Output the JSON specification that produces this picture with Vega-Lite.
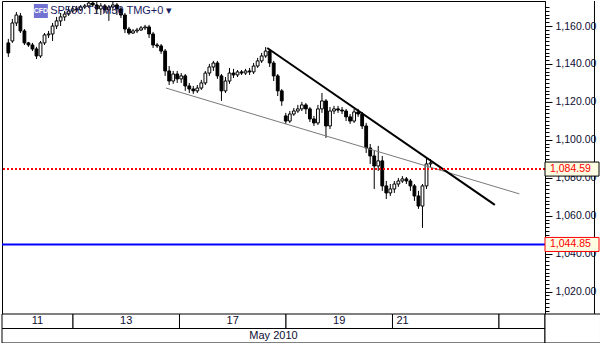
{
  "$schema": "https://vega.github.io/schema/vega-lite/v6.json",
  "padding": 0,
  "spacing": 0,
  "bounds": "flush",
  "background": "white",
  "config": {"view": {"stroke": "black", "strokeWidth": 1}, "font": "Liberation Sans", "concat": {"spacing": 0}},
  "datasets": {
    "bars": [
{"i":0,"o":1151.1,"h":1153.2,"l":1143.7,"c":1145.8},
{"i":1,"o":1152.1,"h":1163.7,"l":1151.1,"c":1161.6},
{"i":2,"o":1161.6,"h":1167.4,"l":1160.0,"c":1165.8},
{"i":3,"o":1165.3,"h":1166.9,"l":1156.3,"c":1157.4},
{"i":4,"o":1157.4,"h":1158.4,"l":1150.0,"c":1151.1},
{"i":5,"o":1151.1,"h":1151.6,"l":1149.0,"c":1150.0},
{"i":6,"o":1150.0,"h":1151.1,"l":1146.8,"c":1147.9},
{"i":7,"o":1147.9,"h":1149.0,"l":1142.6,"c":1144.2},
{"i":8,"o":1144.2,"h":1152.1,"l":1143.2,"c":1151.1},
{"i":9,"o":1151.1,"h":1156.3,"l":1150.0,"c":1155.3},
{"i":10,"o":1155.3,"h":1157.4,"l":1153.7,"c":1155.8},
{"i":11,"o":1155.8,"h":1161.6,"l":1152.1,"c":1160.0},
{"i":12,"o":1160.0,"h":1164.8,"l":1158.4,"c":1162.7},
{"i":13,"o":1162.7,"h":1166.9,"l":1160.0,"c":1164.8},
{"i":14,"o":1164.8,"h":1167.9,"l":1162.7,"c":1166.3},
{"i":15,"o":1166.3,"h":1170.0,"l":1165.3,"c":1167.9},
{"i":16,"o":1167.9,"h":1170.6,"l":1166.9,"c":1169.0},
{"i":17,"o":1169.0,"h":1170.6,"l":1167.4,"c":1168.5},
{"i":18,"o":1168.5,"h":1171.1,"l":1167.9,"c":1170.0},
{"i":19,"o":1170.0,"h":1171.6,"l":1169.0,"c":1170.6},
{"i":20,"o":1170.6,"h":1174.3,"l":1169.5,"c":1172.1},
{"i":21,"o":1172.1,"h":1174.8,"l":1170.0,"c":1171.1},
{"i":22,"o":1171.1,"h":1172.7,"l":1166.9,"c":1169.0},
{"i":23,"o":1169.0,"h":1172.1,"l":1165.8,"c":1170.6},
{"i":24,"o":1170.6,"h":1171.6,"l":1166.9,"c":1168.5},
{"i":25,"o":1168.5,"h":1171.1,"l":1162.7,"c":1170.0},
{"i":26,"o":1170.0,"h":1172.7,"l":1167.9,"c":1171.1},
{"i":27,"o":1171.1,"h":1172.1,"l":1165.8,"c":1169.0},
{"i":28,"o":1169.0,"h":1170.0,"l":1164.2,"c":1165.8},
{"i":29,"o":1165.8,"h":1166.9,"l":1156.3,"c":1158.4},
{"i":30,"o":1158.4,"h":1159.5,"l":1155.3,"c":1156.3},
{"i":31,"o":1156.3,"h":1158.4,"l":1155.8,"c":1157.4},
{"i":32,"o":1157.4,"h":1159.0,"l":1156.3,"c":1157.9},
{"i":33,"o":1157.9,"h":1160.0,"l":1157.4,"c":1159.0},
{"i":34,"o":1159.0,"h":1160.6,"l":1157.9,"c":1159.5},
{"i":35,"o":1159.5,"h":1160.6,"l":1153.7,"c":1155.8},
{"i":36,"o":1155.8,"h":1156.9,"l":1148.4,"c":1150.0},
{"i":37,"o":1150.0,"h":1151.1,"l":1148.4,"c":1149.5},
{"i":38,"o":1149.5,"h":1150.5,"l":1145.3,"c":1146.8},
{"i":39,"o":1146.8,"h":1147.9,"l":1133.7,"c":1136.3},
{"i":40,"o":1136.3,"h":1138.9,"l":1128.9,"c":1131.0},
{"i":41,"o":1131.0,"h":1136.3,"l":1129.5,"c":1134.7},
{"i":42,"o":1134.7,"h":1136.3,"l":1130.0,"c":1132.1},
{"i":43,"o":1132.1,"h":1135.2,"l":1130.0,"c":1133.7},
{"i":44,"o":1133.7,"h":1134.7,"l":1125.8,"c":1128.4},
{"i":45,"o":1128.4,"h":1130.0,"l":1124.7,"c":1126.8},
{"i":46,"o":1126.8,"h":1128.4,"l":1124.2,"c":1125.8},
{"i":47,"o":1125.8,"h":1128.9,"l":1124.7,"c":1127.3},
{"i":48,"o":1127.3,"h":1131.6,"l":1126.3,"c":1130.0},
{"i":49,"o":1130.0,"h":1136.3,"l":1128.9,"c":1135.2},
{"i":50,"o":1135.2,"h":1140.0,"l":1133.7,"c":1138.4},
{"i":51,"o":1138.4,"h":1141.6,"l":1136.3,"c":1140.5},
{"i":52,"o":1140.5,"h":1141.6,"l":1132.1,"c":1133.7},
{"i":53,"o":1133.7,"h":1134.7,"l":1120.5,"c":1125.8},
{"i":54,"o":1125.8,"h":1133.1,"l":1124.7,"c":1131.0},
{"i":55,"o":1131.0,"h":1137.9,"l":1129.5,"c":1135.2},
{"i":56,"o":1135.2,"h":1137.4,"l":1132.6,"c":1134.2},
{"i":57,"o":1134.2,"h":1136.8,"l":1133.1,"c":1135.8},
{"i":58,"o":1135.8,"h":1136.8,"l":1134.2,"c":1135.2},
{"i":59,"o":1135.2,"h":1137.4,"l":1134.2,"c":1136.3},
{"i":60,"o":1136.3,"h":1137.9,"l":1134.2,"c":1135.8},
{"i":61,"o":1135.8,"h":1140.5,"l":1134.7,"c":1138.9},
{"i":62,"o":1138.9,"h":1143.2,"l":1137.9,"c":1141.6},
{"i":63,"o":1141.6,"h":1145.8,"l":1140.5,"c":1144.2},
{"i":64,"o":1144.2,"h":1148.9,"l":1143.2,"c":1146.8},
{"i":65,"o":1146.8,"h":1147.9,"l":1138.4,"c":1140.5},
{"i":66,"o":1140.5,"h":1141.6,"l":1131.0,"c":1133.7},
{"i":67,"o":1133.7,"h":1134.7,"l":1123.1,"c":1125.8},
{"i":68,"o":1125.8,"h":1126.8,"l":1117.9,"c":1120.5},
{"i":69,"o":1112.6,"h":1114.2,"l":1108.4,"c":1109.9},
{"i":70,"o":1109.9,"h":1115.2,"l":1108.9,"c":1113.6},
{"i":71,"o":1113.6,"h":1116.8,"l":1112.6,"c":1115.2},
{"i":72,"o":1115.2,"h":1118.4,"l":1114.2,"c":1116.3},
{"i":73,"o":1116.3,"h":1120.0,"l":1115.2,"c":1118.4},
{"i":74,"o":1118.4,"h":1119.4,"l":1113.6,"c":1116.3},
{"i":75,"o":1116.3,"h":1117.3,"l":1109.4,"c":1111.0},
{"i":76,"o":1111.0,"h":1112.6,"l":1107.3,"c":1108.9},
{"i":77,"o":1108.9,"h":1118.4,"l":1107.8,"c":1116.3},
{"i":78,"o":1116.3,"h":1124.7,"l":1114.2,"c":1120.5},
{"i":79,"o":1120.5,"h":1121.5,"l":1101.0,"c":1107.3},
{"i":80,"o":1107.3,"h":1117.3,"l":1105.7,"c":1115.2},
{"i":81,"o":1115.2,"h":1117.9,"l":1113.6,"c":1116.3},
{"i":82,"o":1116.3,"h":1117.9,"l":1114.2,"c":1115.7},
{"i":83,"o":1115.7,"h":1117.3,"l":1113.6,"c":1115.2},
{"i":84,"o":1115.2,"h":1116.3,"l":1109.9,"c":1112.1},
{"i":85,"o":1112.1,"h":1113.6,"l":1108.4,"c":1109.9},
{"i":86,"o":1109.9,"h":1116.3,"l":1108.9,"c":1114.7},
{"i":87,"o":1114.7,"h":1116.3,"l":1112.1,"c":1113.6},
{"i":88,"o":1113.6,"h":1114.7,"l":1105.7,"c":1107.3},
{"i":89,"o":1107.3,"h":1108.9,"l":1093.1,"c":1095.7},
{"i":90,"o":1095.7,"h":1097.8,"l":1087.3,"c":1091.5},
{"i":91,"o":1091.5,"h":1094.1,"l":1074.1,"c":1086.2},
{"i":92,"o":1086.2,"h":1096.8,"l":1083.6,"c":1088.9},
{"i":93,"o":1088.9,"h":1091.5,"l":1073.1,"c":1075.7},
{"i":94,"o":1075.7,"h":1078.3,"l":1068.8,"c":1072.0},
{"i":95,"o":1072.0,"h":1076.7,"l":1070.4,"c":1074.1},
{"i":96,"o":1074.1,"h":1078.3,"l":1072.0,"c":1076.7},
{"i":97,"o":1076.7,"h":1079.9,"l":1075.2,"c":1078.3},
{"i":98,"o":1078.3,"h":1080.9,"l":1077.3,"c":1079.4},
{"i":99,"o":1079.4,"h":1080.4,"l":1076.7,"c":1078.3},
{"i":100,"o":1078.3,"h":1079.4,"l":1073.1,"c":1075.7},
{"i":101,"o":1075.7,"h":1076.7,"l":1067.8,"c":1070.4},
{"i":102,"o":1070.4,"h":1073.1,"l":1063.6,"c":1065.1},
{"i":103,"o":1065.1,"h":1076.7,"l":1053.6,"c":1075.7},
{"i":104,"o":1075.7,"h":1090.4,"l":1074.1,"c":1087.3},
{"i":105,"o":1087.3,"h":1089.9,"l":1085.7,"c":1087.8}
    ],
    "trend": [
      {"id": "upper", "i": 64.4, "p": 1148.4},
      {"id": "upper", "i": 121.0, "p": 1065.7},
      {"id": "lower", "i": 39.2, "p": 1127.3},
      {"id": "lower", "i": 127.1, "p": 1071.5}
    ],
    "levels": [
      {"name": "red", "v": 1084.59},
      {"name": "blue", "v": 1044.85}
    ],
    "days": [
      {"a": -0.334, "b": 17, "r0": 0, "r1": 1, "label": "11"},
      {"a": 17, "b": 43, "r0": 0, "r1": 1, "label": "13"},
      {"a": 43, "b": 69, "r0": 0, "r1": 1, "label": "17"},
      {"a": 69, "b": 95, "r0": 0, "r1": 1, "label": "19"},
      {"a": 95, "b": 121, "r0": 0, "r1": 1, "label": "21"},
      {"a": 121, "b": 132.23, "r0": 0, "r1": 1, "label": ""},
      {"a": -0.334, "b": 132.23, "r0": 1, "r1": 2, "label": "May 2010"},
      {"a": 132.23, "b": 145.78, "r0": 0, "r1": 2, "label": ""}
    ]
  },
  "vconcat": [
    {
      "width": 543,
      "height": 313,
      "layer": [
        {
          "data": {"name": "bars"},
          "mark": {"type": "rule", "color": "black", "strokeWidth": 1, "clip": true},
          "encoding": {
            "x": {"field": "i", "type": "quantitative", "scale": {"domain": [-0.334, 132.23], "nice": false, "zero": false}, "axis": null},
            "y": {
              "field": "l", "type": "quantitative",
              "scale": {"domain": [1008.19, 1173.18], "nice": false, "zero": false, "clamp": true},
              "axis": {
                "orient": "right",
                "values": [1010,1012,1014,1016,1018,1020,1022,1024,1026,1028,1030,1032,1034,1036,1038,1040,1042,1044,1046,1048,1050,1052,1054,1056,1058,1060,1062,1064,1066,1068,1070,1072,1074,1076,1078,1080,1082,1084,1086,1088,1090,1092,1094,1096,1098,1100,1102,1104,1106,1108,1110,1112,1114,1116,1118,1120,1122,1124,1126,1128,1130,1132,1134,1136,1138,1140,1142,1144,1146,1148,1150,1152,1154,1156,1158,1160,1162,1164,1166,1168,1170],
                "tickCount": 200,
                "labelExpr": "datum.value % 20 === 0 ? format(datum.value, ',.2f') : ''",
                "tickSize": {"condition": {"test": "datum.value % 20 === 0", "value": 7}, "value": 4},
                "tickColor": "black",
                "domainColor": "black",
                "labelFontSize": 10.5,
                "labelColor": "#0d0d33",
                "labelFont": "Liberation Sans",
                "labelPadding": 3,
                "labelOverlap": false,
                "labelBound": false,
                "labelFlush": false,
                "grid": false,
                "title": null,
                "minExtent": 57,
                "maxExtent": 57
              }
            },
            "y2": {"field": "h"}
          }
        },
        {
          "data": {"name": "bars"},
          "mark": {"type": "bar", "size": 2.8, "stroke": "black", "strokeWidth": 1, "clip": true},
          "encoding": {
            "x": {"field": "i", "type": "quantitative"},
            "y": {"field": "o", "type": "quantitative"},
            "y2": {"field": "c"},
            "fill": {"condition": {"test": "datum.c >= datum.o", "value": "white"}, "value": "black"}
          }
        },
        {
          "data": {"name": "trend"},
          "transform": [{"filter": "datum.id === 'lower'"}],
          "mark": {"type": "line", "color": "#7a7a7a", "strokeWidth": 1},
          "encoding": {
            "x": {"field": "i", "type": "quantitative"},
            "y": {"field": "p", "type": "quantitative"}
          }
        },
        {
          "data": {"name": "trend"},
          "transform": [{"filter": "datum.id === 'upper'"}],
          "mark": {"type": "line", "color": "black", "strokeWidth": 2},
          "encoding": {
            "x": {"field": "i", "type": "quantitative"},
            "y": {"field": "p", "type": "quantitative"}
          }
        },
        {
          "data": {"name": "levels"},
          "transform": [{"filter": "datum.name === 'red'"}],
          "mark": {"type": "rule", "color": "#ff0000", "strokeWidth": 2, "strokeDash": [2, 2]},
          "encoding": {"y": {"field": "v", "type": "quantitative"}}
        },
        {
          "data": {"name": "levels"},
          "transform": [{"filter": "datum.name === 'blue'"}],
          "mark": {"type": "rule", "color": "#0000ff", "strokeWidth": 2},
          "encoding": {"y": {"field": "v", "type": "quantitative"}}
        },
        {
          "data": {"values": [{"edge": 145.78}]},
          "mark": {"type": "rule", "color": "black", "strokeWidth": 1},
          "encoding": {"x": {"field": "edge", "type": "quantitative"}}
        },
        {
          "data": {"name": "levels"},
          "mark": {"type": "point", "shape": "M0,-0.13L1,-0.13L1,0.13L0,0.13Z", "filled": true, "fill": "#fdfbe2", "opacity": 1, "strokeWidth": 1, "size": 11664},
          "encoding": {
            "x": {"value": "width"},
            "y": {"field": "v", "type": "quantitative"},
            "stroke": {"condition": {"test": "datum.name === 'red'", "value": "black"}, "value": "#ff0000"}
          }
        },
        {
          "data": {"name": "levels"},
          "mark": {"type": "text", "align": "left", "baseline": "middle", "dx": 5, "color": "#ff0000", "fontSize": 10.5, "font": "Liberation Sans"},
          "encoding": {
            "x": {"value": "width"},
            "y": {"field": "v", "type": "quantitative"},
            "text": {"field": "v", "type": "quantitative", "format": ",.2f"}
          }
        },
        {
          "data": {"values": [{"icon": "CFD"}]},
          "mark": {"type": "point", "shape": "square", "filled": true, "fill": "#7272d2", "opacity": 1, "size": 196},
          "encoding": {
            "x": {"datum": 8.09, "type": "quantitative"},
            "y": {"datum": 1167.9, "type": "quantitative"}
          }
        },
        {
          "data": {"values": [{"icon": "CFD"}]},
          "mark": {"type": "text", "align": "center", "baseline": "middle", "color": "white", "fontSize": 7, "fontWeight": "bold"},
          "encoding": {
            "x": {"datum": 8.09, "type": "quantitative"},
            "y": {"datum": 1167.9, "type": "quantitative"},
            "text": {"field": "icon"}
          }
        },
        {
          "data": {"values": [{"label": "SP500.T1 M30 TMG+0 ▾"}]},
          "mark": {"type": "text", "align": "left", "baseline": "middle", "color": "#1b1b5e", "fontSize": 11, "font": "Liberation Sans"},
          "encoding": {
            "x": {"datum": 10.41, "type": "quantitative"},
            "y": {"datum": 1167.9, "type": "quantitative"},
            "text": {"field": "label"}
          }
        }
      ]
    },
    {
      "width": 600,
      "height": 29,
      "view": {"stroke": null},
      "data": {"name": "days"},
      "transform": [
        {"calculate": "(datum.a + datum.b) / 2", "as": "mid"},
        {"calculate": "(datum.r0 + datum.r1) / 2", "as": "rmid"}
      ],
      "layer": [
        {
          "mark": {"type": "rect", "fill": "white", "stroke": "black", "strokeWidth": 1},
          "encoding": {
            "x": {"field": "a", "type": "quantitative", "scale": {"domain": [-0.334, 146.15], "nice": false, "zero": false}, "axis": null},
            "x2": {"field": "b"},
            "y": {"field": "r0", "type": "quantitative", "scale": {"domain": [0, 2], "reverse": true, "nice": false, "zero": false}, "axis": null},
            "y2": {"field": "r1"}
          }
        },
        {
          "transform": [{"filter": "datum.label !== '21'"}],
          "mark": {"type": "text", "align": "center", "baseline": "middle", "fontSize": 11, "color": "#0d0d33", "font": "Liberation Sans"},
          "encoding": {
            "x": {"field": "mid", "type": "quantitative"},
            "y": {"field": "rmid", "type": "quantitative"},
            "text": {"field": "label"}
          }
        },
        {
          "transform": [{"filter": "datum.label === '21'"}],
          "mark": {"type": "text", "align": "left", "baseline": "middle", "dx": 4, "fontSize": 11, "color": "#0d0d33", "font": "Liberation Sans"},
          "encoding": {
            "x": {"field": "a", "type": "quantitative"},
            "y": {"field": "rmid", "type": "quantitative"},
            "text": {"field": "label"}
          }
        }
      ]
    }
  ]
}
